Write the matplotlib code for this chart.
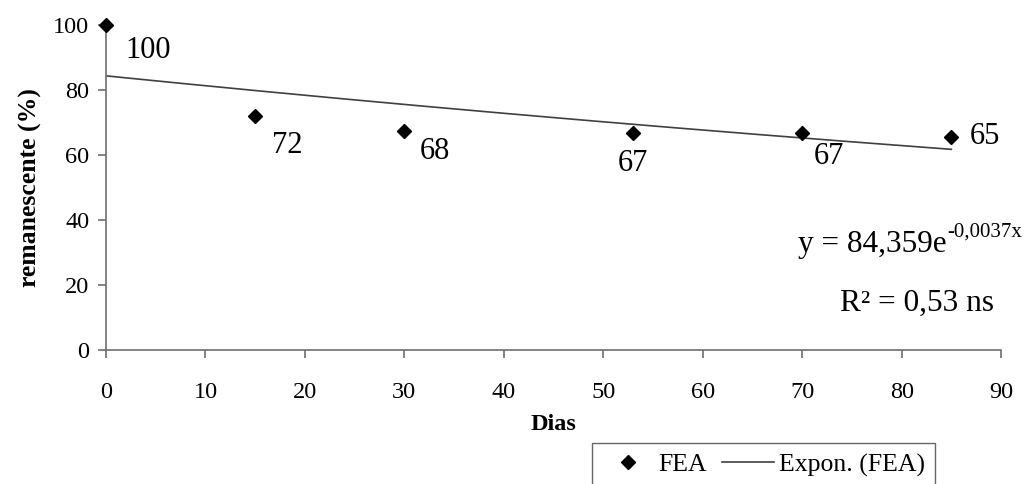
import numpy as np
import matplotlib.pyplot as plt

plt.rcParams["font.family"] = ["Liberation Serif", "DejaVu Serif"]

dias = [0, 15, 30, 53, 70, 85]
remanescente = [100, 71.9, 67.5, 66.9, 66.9, 65.7]
rotulos = ["100", "72", "68", "67", "67", "65"]
# label offsets in points (dx, dy, ha)
offsets = [(14, -18, "left"), (12, -21, "left"), (11, -15, "left"),
           (0, -22, "center"), (19, -17, "center"), (13, 0, "left")]

# exponential trendline (least squares on ln y, like Excel)
b, ln_a = np.polyfit(dias, np.log(remanescente), 1)
xt = np.linspace(dias[0], dias[-1], 200)
yt = np.exp(ln_a) * np.exp(b * xt)

fig = plt.figure(figsize=(10.36, 4.84), dpi=100)
ax = fig.add_axes([0.1023, 0.277, 0.8640, 0.671])

ax.plot(dias, remanescente, linestyle="none", marker="D", markersize=7,
        color="black", label="FEA", clip_on=False, zorder=3)
ax.plot(xt, yt, color="#404040", linewidth=1.2, label="Expon. (FEA)")

for x, y, t, (dx, dy, ha) in zip(dias, remanescente, rotulos, offsets):
    ax.annotate(t, (x, y), xytext=(dx, dy), textcoords="offset points",
                ha=ha, va="center", fontsize=22)

ax.set_xlim(0, 90)
ax.set_ylim(0, 100)
ax.set_xticks(range(0, 91, 10))
ax.set_yticks(range(0, 101, 20))
ax.tick_params(labelsize=17.5, length=6, width=1.2, color="#6e6e6e", pad=6)
ax.tick_params(axis="x", pad=17)
for s in ["top", "right"]:
    ax.spines[s].set_visible(False)
for s in ["left", "bottom"]:
    ax.spines[s].set_color("#6e6e6e")
    ax.spines[s].set_linewidth(1.2)

ax.set_xlabel("Dias", fontsize=17.5, fontweight="bold", labelpad=8)
ax.set_ylabel("remanescente (%)", fontsize=18.5, fontweight="bold", labelpad=8)

eq = fig.text(0.770, 0.479, "y = 84,359e", fontsize=22.5, va="baseline")
fig.canvas.draw()
ax.annotate("-0,0037x", xy=(1, 0), xycoords=eq, xytext=(1, 16),
            textcoords="offset points", fontsize=15, va="baseline")
fig.text(0.811, 0.357, "R² = 0,53 ns", fontsize=22.5, va="baseline")

leg = fig.legend(loc="upper left", bbox_to_anchor=(0.571, 0.085), ncol=2,
                 fontsize=18.5, frameon=True, fancybox=False, borderpad=0.4,
                 borderaxespad=0, handlelength=2.0, columnspacing=0.6,
                 handletextpad=0.2)
leg.get_frame().set_edgecolor("#404040")
leg.get_frame().set_linewidth(1.0)

fig.savefig("out.png", dpi=100)
